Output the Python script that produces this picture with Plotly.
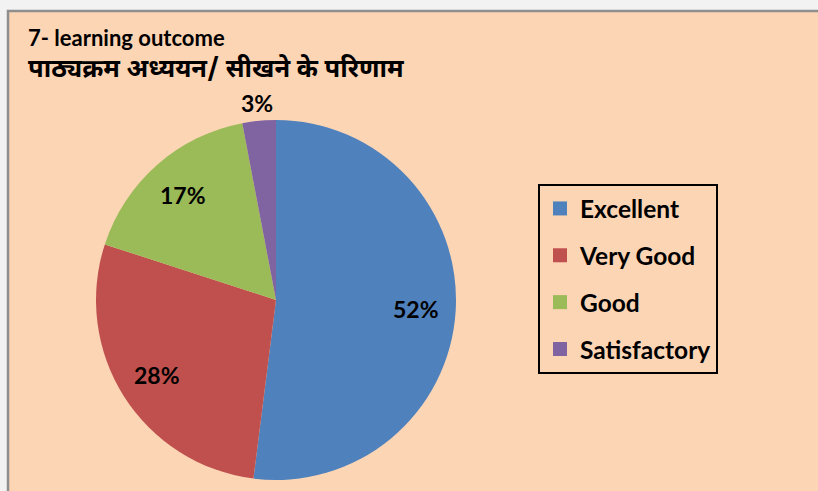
import math
import plotly.graph_objects as go

# chart data
categories = ["Excellent", "Very Good", "Good", "Satisfactory"]
shares = [52, 28, 17, 3]
colors = ["#4F81BD", "#C0504D", "#9BBB59", "#8064A2"]
label_positions = ["inside", "inside", "inside", "outside"]

title_en = "7- learning outcome"
title_hi = "पाठ्यक्रम अध्ययन/ सीखने के परिणाम"

W, H = 818, 491
FONT = "Lato, 'Noto Sans', sans-serif"
FONT_HI = "'Noto Sans Devanagari', 'Lohit Devanagari', 'Noto Sans', Lato, sans-serif"


def px_x(v):
    return v / W


def px_y(v):
    return 1 - v / H


pie_x = [px_x(96), px_x(456)]
pie_y = [px_y(480), px_y(120)]

fig = go.Figure()

fig.add_trace(go.Pie(
    labels=categories,
    values=shares,
    sort=False,
    direction="clockwise",
    rotation=0,
    marker=dict(colors=colors, line=dict(width=0)),
    textinfo="none",
    domain=dict(x=pie_x, y=pie_y),
    showlegend=False,
    hoverinfo="label+percent",
))

# percentage labels placed along each slice's mid angle (Excel style)
cx, cy = sum(pie_x) / 2, sum(pie_y) / 2
rx, ry = (pie_x[1] - pie_x[0]) / 2, (pie_y[1] - pie_y[0]) / 2
total = sum(shares)
labels = []
cum = 0
for v, pos in zip(shares, label_positions):
    mid = (cum + v / 2) / total * 2 * math.pi
    cum += v
    f = 0.78 if pos == "inside" else 1.1
    labels.append(dict(
        text="%d%%" % round(v / total * 100), xref="paper", yref="paper",
        x=cx + f * rx * math.sin(mid), y=cy + f * ry * math.cos(mid),
        xanchor="center", yanchor="middle", showarrow=False,
        font=dict(family=FONT, size=23, color="black", weight="bold"),
    ))

# legend entries as separate groups so the spacing can match the original
for name, col in zip(categories, colors):
    fig.add_trace(go.Scatter(
        x=[None], y=[None], mode="markers", name=name, legendgroup=name,
        marker=dict(symbol="square", size=14, color=col),
    ))

fig.update_layout(
    width=W, height=H,
    margin=dict(l=0, r=0, t=0, b=0),
    paper_bgcolor="#F2F2F2",
    plot_bgcolor="rgba(0,0,0,0)",
    xaxis=dict(visible=False),
    yaxis=dict(visible=False),
    legend=dict(
        x=px_x(538), y=px_y(184), xanchor="left", yanchor="top",
        bordercolor="black", borderwidth=2, bgcolor="rgba(0,0,0,0)",
        font=dict(family=FONT, size=24.5, color="black", weight="bold"),
        tracegroupgap=12, traceorder="grouped",
    ),
    shapes=[dict(
        type="rect", xref="paper", yref="paper", layer="below",
        x0=px_x(8), x1=1.02, y0=-0.02, y1=px_y(11),
        fillcolor="#FCD5B5", line=dict(color="#8E8E8E", width=2.5),
    )],
    annotations=[
        dict(text=title_en, xref="paper", yref="paper",
             x=px_x(26), y=px_y(22), xanchor="left", yanchor="top", showarrow=False,
             font=dict(family=FONT, size=22, color="black", weight="bold")),
        dict(text="<b>" + title_hi + "</b>", xref="paper", yref="paper",
             x=px_x(26), y=px_y(52), xanchor="left", yanchor="top", showarrow=False,
             font=dict(family=FONT_HI, size=25.5, color="black")),
    ] + labels,
)

fig.write_html("out.html", config={"displayModeBar": False},
               post_script="document.body.style.margin='0';"
               "document.body.style.overflow='hidden';")
